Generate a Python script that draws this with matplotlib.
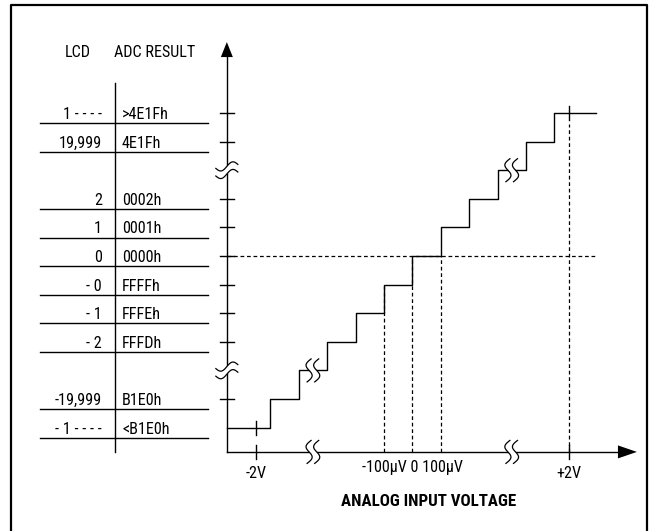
import numpy as np
import matplotlib
matplotlib.use('Agg')
import matplotlib.pyplot as plt
from matplotlib import font_manager
from matplotlib.patches import Polygon
from matplotlib.lines import Line2D

# the reference uses a narrow sans; look for one
_fonts = font_manager.fontManager.ttflist
_names = {f.name for f in _fonts}
FAMILY, STRETCH, FS, FS_B = 'Liberation Sans', 'normal', 10.2, 10.8
for cand in ['Liberation Sans Narrow', 'Roboto Condensed', 'Noto Sans Condensed',
             'Open Sans Condensed', 'Noto Sans SemiCondensed', 'DejaVu Sans Condensed']:
    if cand in _names:
        FAMILY, FS, FS_B = cand, 11.6, 12.2
        break
else:
    for fam in ['Roboto', 'Noto Sans', 'Open Sans']:
        if any(f.name == fam and f.stretch in ('condensed', 'semi-condensed', 625, 750) for f in _fonts):
            FAMILY, STRETCH, FS, FS_B = fam, 'condensed', 11.6, 12.2
            break
plt.rcParams['font.family'] = [FAMILY, 'DejaVu Sans']
plt.rcParams['font.stretch'] = STRETCH

# transfer function, x in LSB (1 LSB = 100uV), y in output code levels
step_x = [-5, -4, -3, -2, -1, 0, 1, 2, 3, 4, 5]
step_levels = [-6, -5, -4, -3, -2, -1, 0, 1, 2, 3, 4, 5]
row_levels = [5, 4, 2, 1, 0, -1, -2, -3, -5, -6]
lcd_labels = ['1 - - - -', '19,999', '2', '1', '0', '- 0', '- 1', '- 2', '-19,999', '- 1 - - - -']
adc_labels = ['>4E1Fh', '4E1Fh', '0002h', '0001h', '0000h', 'FFFFh', 'FFFEh', 'FFFDh', 'B1E0h', '<B1E0h']
ytick_levels = [5, 4, 2, 1, 0, -1, -2, -3, -5]
ybreak_levels = [3, -4]
xbreak_pos = [-3.5, 3.5]
vref = 5.5            # +/-2V on the x scale
lsb_marks = [-1, 0, 1]  # -100uV, 0, 100uV

# layout (plot units)
X_AX = -6.53      # y axis position
Y_AX = -6.85      # x axis position
X_END = 6.47      # end of the curve
X_TIP = 7.91
Y_TIP = 7.48
PXX = 28.4        # pixels per x unit
PXY = 28.6        # pixels per y unit

fig = plt.figure(figsize=(6.49, 5.31), dpi=100)
ax = fig.add_axes([0, 0, 1, 1])
ax.set_xlim(-412.3 / PXX, (649 - 412.3) / PXX)
ax.set_ylim((256 - 531) / PXY, 256 / PXY)
ax.axis('off')

lw = 1.0
dash = dict(color='black', lw=0.9, dashes=(3, 2.2))

# border (bottom edge is outside the picture)
ax.add_line(Line2D([11 / 649, 11 / 649, 647 / 649, 647 / 649], [0, 1 - 5 / 531, 1 - 5 / 531, 0],
                   transform=ax.transAxes, color='black', lw=1.6, clip_on=False))

# axes with arrows
ax.plot([X_AX, X_AX], [Y_AX, Y_TIP - 0.4], color='black', lw=lw)
ax.plot([X_AX, X_TIP - 0.5], [Y_AX, Y_AX], color='black', lw=lw)
ax.add_patch(Polygon([[X_AX, Y_TIP], [X_AX - 6 / PXX, Y_TIP - 15 / PXY], [X_AX + 6 / PXX, Y_TIP - 15 / PXY]],
                     fc='black', ec='none', zorder=5))
ax.add_patch(Polygon([[X_TIP, Y_AX], [X_TIP - 19 / PXX, Y_AX + 6.5 / PXY], [X_TIP - 19 / PXX, Y_AX - 6.5 / PXY]],
                     fc='black', ec='none', zorder=5))

# dashed guides
ax.plot([X_AX, X_END - 0.04], [0, 0], **dash)
for xm, lev in zip(lsb_marks, [-1, 0, 0]):
    ax.plot([xm, xm], [Y_AX, lev], **dash)
ax.plot([vref, vref], [Y_AX, 5 - 0.4], **dash)

# staircase
xs = [X_AX] + step_x + [X_END]
ys = step_levels + [step_levels[-1]]
ax.step(xs, ys, where='post', color='black', lw=lw, zorder=3)

# ticks on y axis
th = 7 / PXX
for lev in ytick_levels:
    ax.plot([X_AX - th, X_AX + th], [lev, lev], color='black', lw=lw)
# ticks on x axis and on the curve at +/-2V
tv = 7 / PXY
for xv, lev in [(-vref, step_levels[0]), (vref, step_levels[-1])]:
    ax.plot([xv, xv], [Y_AX - tv, Y_AX + tv], color='black', lw=lw)
    ax.plot([xv, xv], [lev - tv, lev + tv], color='black', lw=lw)


def break_v(x, y):
    # two S strokes across a horizontal line
    t = np.linspace(-1, 1, 60)
    off = -4 / PXX * np.sin(np.pi * t) + 2 / PXX * t
    yy = y + t * 11.5 / PXY
    left = x - 3.8 / PXX + off
    right = x + 3.8 / PXX + off
    pts = np.r_[np.c_[left, yy], np.c_[right[::-1], yy[::-1]]]
    ax.add_patch(Polygon(pts, fc='white', ec='none', zorder=6))
    ax.plot(left, yy, color='black', lw=0.9, zorder=7)
    ax.plot(right, yy, color='black', lw=0.9, zorder=7)


def break_h(x, y):
    # two tilde strokes across the vertical axis
    t = np.linspace(-1, 1, 60)
    off = 3.5 / PXY * np.sin(np.pi * t) + 2 / PXY * t
    xx = x + t * 11 / PXX
    low = y - 3.8 / PXY + off
    high = y + 3.8 / PXY + off
    pts = np.r_[np.c_[xx, low], np.c_[xx[::-1], high[::-1]]]
    ax.add_patch(Polygon(pts, fc='white', ec='none', zorder=6))
    ax.plot(xx, low, color='black', lw=0.9, zorder=7)
    ax.plot(xx, high, color='black', lw=0.9, zorder=7)


for xb, lev in zip(xbreak_pos, [-4, 3]):
    break_v(xb, Y_AX)
    break_v(xb, lev)
for lev in ybreak_levels:
    break_h(X_AX, lev)

# x labels
ax.text(-vref, -7.62, '-2V', ha='center', va='center', fontsize=FS)
ax.text(vref, -7.62, '+2V', ha='center', va='center', fontsize=FS)
ax.text(0, -7.41, '-100\u00b5V 0 100\u00b5V', ha='center', va='center', fontsize=FS)
ax.text(0.56, -8.57, 'ANALOG INPUT VOLTAGE', ha='center', va='center', fontsize=FS_B, fontweight='bold')

# code table
T_LEFT, T_RIGHT, T_DIV = -13.11, -7.20, -10.47
ax.text(-11.77, 7.10, 'LCD', ha='center', va='center', fontsize=FS)
ax.text(-9.07, 7.10, 'ADC RESULT', ha='center', va='center', fontsize=FS)
ax.plot([T_DIV, T_DIV], [6.05, Y_AX], color='black', lw=lw)
for lev, lcd, adc in zip(row_levels, lcd_labels, adc_labels):
    ax.text(T_DIV - 0.46, lev - 0.05, lcd, ha='right', va='center', fontsize=FS)
    ax.text(T_DIV + 0.25, lev - 0.05, adc, ha='left', va='center', fontsize=FS)
    ax.plot([T_LEFT, T_RIGHT], [lev - 0.36, lev - 0.36], color='black', lw=lw)

fig.savefig('out.png', dpi=100)
